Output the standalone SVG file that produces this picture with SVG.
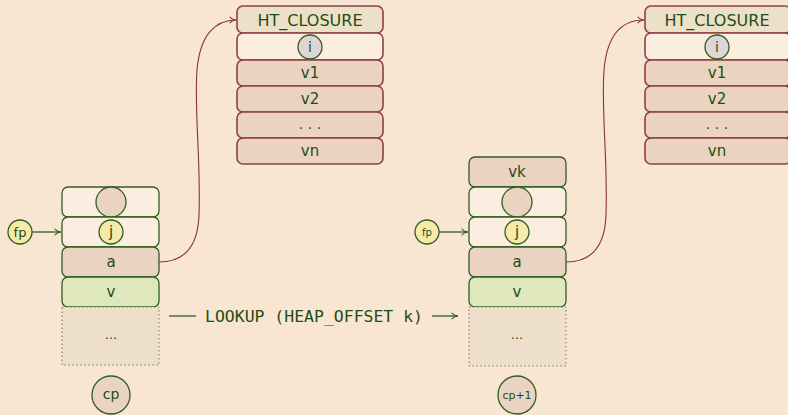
<svg xmlns="http://www.w3.org/2000/svg" width="788" height="415" viewBox="0 0 788 415">
<defs>
<marker id="ag" viewBox="0 0 10 10" refX="9" refY="5" markerWidth="8" markerHeight="8" markerUnits="userSpaceOnUse" orient="auto">
<path d="M1,1 Q5,5 9,5 Q5,5 1,9" fill="none" stroke="#2f5f1f" stroke-width="1.3"/>
</marker>
<marker id="am" viewBox="0 0 10 10" refX="9" refY="5" markerWidth="8" markerHeight="8" markerUnits="userSpaceOnUse" orient="auto">
<path d="M1,1 Q5,5 9,5 Q5,5 1,9" fill="none" stroke="#8a3535" stroke-width="1.3"/>
</marker>
<style>
.t{font-family:"DejaVu Sans","Liberation Sans",sans-serif;fill:#1f4d12;text-anchor:middle;dominant-baseline:central}
.g{stroke:#2f5f1f;stroke-width:1.3}
.m{stroke:#8e4040;stroke-width:1.6}
.wh{fill:#fbeee0}
.pk{fill:#ebd3c1}
.gr{fill:#dfe8bd}
.tan{fill:#ede0c9}
.yl{fill:#f6eaab}
.lv{fill:#e0d4d6}
.dot{fill:#eddfc9;stroke:#6f7f55;stroke-width:1;stroke-dasharray:1.5 2.5}
.mono{font-family:"DejaVu Sans Mono","Liberation Mono",monospace;fill:#1f4d12;font-size:16px;dominant-baseline:central}
</style>
</defs>
<rect width="788" height="415" fill="#f8e6d2"/>

<g id="closure1">
<rect x="237" y="6" width="146" height="27" rx="6" class="tan m"/>
<text x="310" y="20" class="t" font-size="16">HT_CLOSURE</text>
<rect x="237" y="33" width="146" height="27" rx="6" class="wh m"/>
<circle cx="310" cy="47" r="12" class="lv g"/>
<text x="310" y="47" class="t" font-size="14">i</text>
<rect x="237" y="60" width="146" height="26" rx="6" class="pk m"/>
<text x="310" y="73" class="t" font-size="15">v1</text>
<rect x="237" y="86" width="146" height="26" rx="6" class="pk m"/>
<text x="310" y="99" class="t" font-size="15">v2</text>
<rect x="237" y="112" width="146" height="26" rx="6" class="pk m"/>
<text x="310" y="124" class="t" font-size="14">. . .</text>
<rect x="237" y="138" width="146" height="26" rx="6" class="pk m"/>
<text x="310" y="151" class="t" font-size="15">vn</text>
</g>

<g id="closure2">
<rect x="645" y="6" width="146" height="27" rx="6" class="tan m"/>
<text x="717" y="20" class="t" font-size="16">HT_CLOSURE</text>
<rect x="645" y="33" width="146" height="27" rx="6" class="wh m"/>
<circle cx="717" cy="47" r="12" class="lv g"/>
<text x="717" y="47" class="t" font-size="14">i</text>
<rect x="645" y="60" width="146" height="26" rx="6" class="pk m"/>
<text x="717" y="73" class="t" font-size="15">v1</text>
<rect x="645" y="86" width="146" height="26" rx="6" class="pk m"/>
<text x="717" y="99" class="t" font-size="15">v2</text>
<rect x="645" y="112" width="146" height="26" rx="6" class="pk m"/>
<text x="717" y="124" class="t" font-size="14">. . .</text>
<rect x="645" y="138" width="146" height="26" rx="6" class="pk m"/>
<text x="717" y="151" class="t" font-size="15">vn</text>
</g>

<g id="stack1">
<rect x="62" y="187" width="97" height="30" rx="6" class="wh g"/>
<circle cx="111" cy="202" r="15" class="pk g"/>
<rect x="62" y="217" width="97" height="30" rx="6" class="wh g"/>
<circle cx="111" cy="232" r="12" class="yl g"/>
<text x="111" y="232" class="t" font-size="15">j</text>
<rect x="62" y="247" width="97" height="30" rx="6" class="pk g"/>
<text x="111" y="262" class="t" font-size="15">a</text>
<rect x="62" y="277" width="97" height="30" rx="6" class="gr g"/>
<text x="111" y="292" class="t" font-size="15">v</text>
<rect x="62" y="307" width="97" height="58" class="dot"/>
<text x="111" y="334" class="t" font-size="13">...</text>
</g>

<g id="fp1">
<circle cx="20" cy="232" r="12" class="yl g"/>
<text x="20" y="232" class="t" font-size="13">fp</text>
</g>
<g id="cp">
<circle cx="111" cy="395" r="19" class="pk g"/>
<text x="111" y="394" class="t" font-size="14">cp</text>
</g>

<g id="stack2">
<rect x="469" y="157" width="97" height="30" rx="6" class="pk g"/>
<text x="517" y="172" class="t" font-size="15">vk</text>
<rect x="469" y="187" width="97" height="30" rx="6" class="wh g"/>
<circle cx="517" cy="202" r="15" class="pk g"/>
<rect x="469" y="217" width="97" height="30" rx="6" class="wh g"/>
<circle cx="517" cy="232" r="12" class="yl g"/>
<text x="517" y="232" class="t" font-size="15">j</text>
<rect x="469" y="247" width="97" height="30" rx="6" class="pk g"/>
<text x="517" y="262" class="t" font-size="15">a</text>
<rect x="469" y="277" width="97" height="30" rx="6" class="gr g"/>
<text x="517" y="292" class="t" font-size="15">v</text>
<rect x="469" y="307" width="97" height="59" class="dot"/>
<text x="517" y="334" class="t" font-size="13">...</text>
</g>

<g id="fp2">
<circle cx="427" cy="232" r="12" class="yl g"/>
<text x="427" y="232" class="t" font-size="10">fp</text>
</g>
<g id="cp1">
<circle cx="517" cy="395" r="19" class="pk g"/>
<text x="517" y="395" class="t" font-size="11">cp+1</text>
</g>

<g id="lookup">
<text x="205" y="316" class="mono" textLength="218" lengthAdjust="spacingAndGlyphs">LOOKUP (HEAP_OFFSET k)</text>
</g>

<g id="connectors" fill="none">
<path d="M32,232 H61" class="g" marker-end="url(#ag)"/>
<path d="M439,232 H468" class="g" marker-end="url(#ag)"/>
<path d="M169,316 H196" class="g"/>
<path d="M432,316 H458" class="g" marker-end="url(#ag)"/>
<path d="M159,262 C185,262 198,245 199,215 C201,160 194,110 197,70 C200,35 215,20 236,20" stroke="#8a3535" stroke-width="1.1" marker-end="url(#am)"/>
<path d="M566,262 C592,262 605,245 606,215 C608,160 601,110 604,70 C607,35 622,20 644,20" stroke="#8a3535" stroke-width="1.1" marker-end="url(#am)"/>
</g>
</svg>
